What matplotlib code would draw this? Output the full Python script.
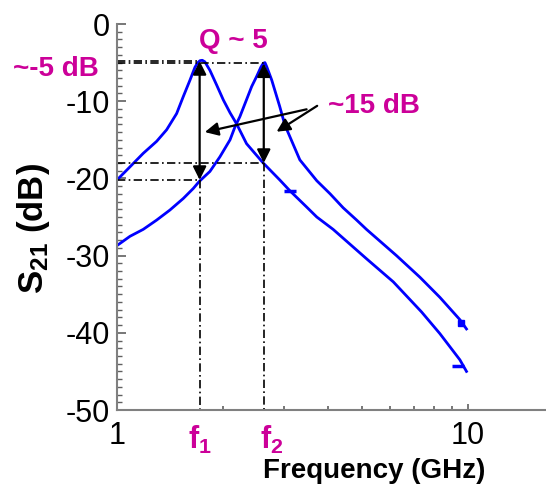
import numpy as np
import matplotlib
matplotlib.use('Agg')
import matplotlib.pyplot as plt
from matplotlib.ticker import MultipleLocator, LogLocator, NullFormatter

plt.rcParams['font.family'] = ['Liberation Sans', 'DejaVu Sans']
plt.rcParams['axes.unicode_minus'] = False
plt.rcParams['mathtext.fontset'] = 'custom'
plt.rcParams['mathtext.rm'] = 'Liberation Sans'
plt.rcParams['mathtext.bf'] = 'Liberation Sans:bold'
plt.rcParams['mathtext.it'] = 'Liberation Sans:bold'

# measured S21 of the two resonators (GHz, dB)
freq_a = [1.00, 1.089, 1.188, 1.297, 1.385, 1.479, 1.545, 1.615, 1.668, 1.70, 1.724, 1.75,
          1.78, 1.84, 1.923, 2.01, 2.10, 2.19, 2.34, 2.61, 2.91, 3.11, 3.47, 3.71, 4.13,
          5.14, 6.13, 7.38, 8.32, 9.49, 9.91]
s21_a = [-20.2, -18.5, -16.75, -15.2, -13.7, -11.6, -9.4, -7.25, -5.6, -5.0, -4.75, -4.7,
         -4.9, -6.0, -7.9, -9.85, -11.5, -12.9, -15.5, -18.0, -20.2, -21.6, -23.7, -25.0, -26.6,
         -30.4, -33.4, -37.3, -40.1, -43.5, -45.0]

freq_b = [1.00, 1.089, 1.188, 1.297, 1.415, 1.545, 1.65, 1.715, 1.84, 1.965, 2.10,
          2.17, 2.24, 2.34, 2.42, 2.50, 2.57, 2.61, 2.64, 2.67, 2.76, 2.91, 3.01, 3.11,
          3.32, 3.71, 4.05, 4.41, 4.82, 5.14, 6.26, 7.30, 8.32, 9.49, 9.91]
s21_b = [-28.7, -27.5, -26.6, -25.4, -24.1, -22.6, -21.3, -20.4, -19.1, -17.2, -15.0,
         -13.3, -12.0, -9.8, -8.1, -6.8, -5.6, -5.1, -5.0, -5.5, -7.25, -10.7, -13.1, -14.6,
         -17.6, -20.3, -22.0, -23.8, -25.4, -26.6, -30.0, -32.8, -35.4, -38.3, -39.5]

# trace markers left on the curves
mark_f_a = [3.11, 9.37]
mark_db_a = [-21.6, -44.3]
mark_f_b = [9.59]
mark_db_b = [-38.7]

# resonance frequencies and levels used for the guides
f1, f2 = 1.72, 2.62
peak1, peak2 = -4.8, -5.1
floor1, floor2 = -20.2, -18.0

# "~15 dB" pointer arrows: (tail f, tail dB, tip f, tip dB)
pointers = [(3.47, -11.05, 1.78, -14.0),
            (3.72, -10.6, 2.85, -13.95)]

magenta = '#cc0099'
blue = '#0000ff'

fig = plt.figure(figsize=(5.46, 4.90), dpi=100)
ax = fig.add_axes([117 / 546, 80 / 490, 429 / 546, 386 / 490])

ax.plot(freq_a, s21_a, color=blue, lw=2.0)
ax.plot(freq_b, s21_b, color=blue, lw=2.0)
ax.plot(mark_f_a, mark_db_a, ls='none', marker='_', ms=8, mew=2.5, color=blue)
ax.plot(mark_f_b, mark_db_b, ls='none', marker='s', ms=4, color=blue)

ax.set_xscale('log')
ax.set_xlim(1, 16.7)
ax.set_ylim(-50, 0)

# dash-dot guide lines
dd = dict(color='black', lw=1.2, ls=(0, (5, 2, 1, 2)))
ax.plot([1, f1], [peak1, peak1], **dd)
ax.plot([1, f2], [peak2, peak2], **dd)
ax.plot([1, f2], [floor2, floor2], **dd)
ax.plot([1, f1], [floor1, floor1], **dd)
ax.plot([f1, f1], [floor1, -50], **dd)
ax.plot([f2, f2], [floor2, -50], **dd)

# double arrows for the rejection
arr2 = dict(arrowstyle='<|-|>', color='black', lw=1.6, mutation_scale=20,
            shrinkA=0, shrinkB=0)
ax.annotate('', xy=(f1, peak1), xytext=(f1, floor1), arrowprops=arr2)
ax.annotate('', xy=(f2, peak2), xytext=(f2, floor2), arrowprops=arr2)

arr1 = dict(arrowstyle='-|>', color='black', lw=1.6, mutation_scale=20,
            shrinkA=0, shrinkB=0)
for tf, tdb, hf, hdb in pointers:
    ax.annotate('', xy=(hf, hdb), xytext=(tf, tdb), arrowprops=arr1)

ax.text(4.0, -11.5, '~15 dB', color=magenta, fontsize=20, fontweight='bold',
        ha='left', va='baseline')
ax.text(2.14, -3.1, 'Q ~ 5', color=magenta, fontsize=20, fontweight='bold',
        ha='center', va='baseline')
ax.text(-0.142, -6.75, '~-5 dB', color=magenta, fontsize=20, fontweight='bold',
        ha='center', va='baseline', transform=ax.get_yaxis_transform())

xt = ax.get_xaxis_transform()
ax.text(f1, -0.035, r'$\mathbf{f_1}$', color=magenta, fontsize=22,
        ha='center', va='top', transform=xt)
ax.annotate(r'$\mathbf{f_2}$', xy=(f2, -0.035), xycoords=xt, xytext=(8, 0),
            textcoords='offset pixels', color=magenta, fontsize=22,
            ha='center', va='top')

ax.set_xticks([1, 10])
ax.set_xticklabels(['1', '10'])
ax.xaxis.set_minor_locator(LogLocator(base=10, subs=np.arange(2, 10)))
ax.xaxis.set_minor_formatter(NullFormatter())
ax.yaxis.set_major_locator(MultipleLocator(10))
ax.yaxis.set_minor_locator(MultipleLocator(1))

for s in ['top', 'right']:
    ax.spines[s].set_visible(False)
for s in ['left', 'bottom']:
    ax.spines[s].set_color('#808080')
    ax.spines[s].set_linewidth(1.5)

ax.tick_params(axis='both', which='both', direction='in', labelsize=22, color='#606060')
ax.tick_params(axis='y', which='major', length=6.5, width=1.2, pad=5)
ax.tick_params(axis='y', which='minor', length=3.5, width=1.0)
ax.tick_params(axis='x', which='major', length=4, width=1.2, pad=8)
ax.tick_params(axis='x', which='minor', length=3, width=1.2)

ax.set_xlabel('Frequency (GHz)', fontsize=20, fontweight='bold')
ax.xaxis.set_label_coords((374 - 117) / 429, (410 - 458) / 386)
ax.set_ylabel(r'$\mathbf{S_{21}}$ (dB)', fontsize=25, fontweight='bold')
ax.yaxis.set_label_coords((52 - 117) / 429, (410 - 229) / 386)

fig.savefig('out.png', dpi=100)
